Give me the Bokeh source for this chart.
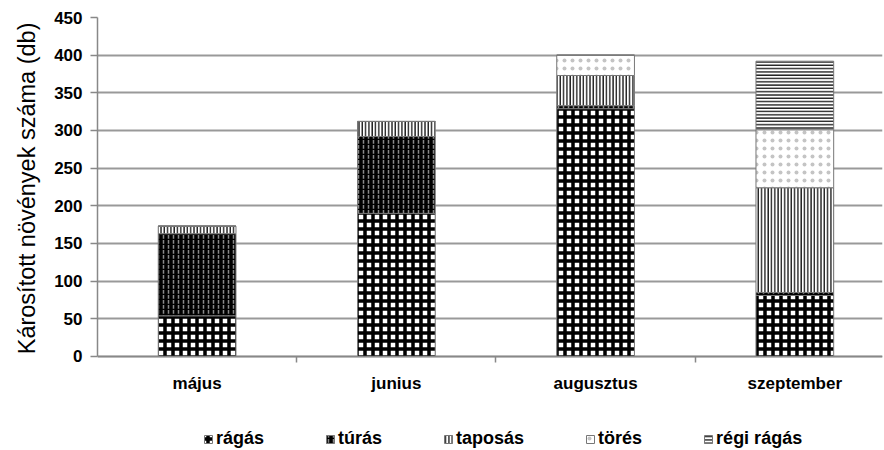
from bokeh.plotting import figure
from bokeh.models import Range1d, FixedTicker, Legend, LegendItem, ColumnDataSource, Title
from bokeh.embed import file_html
from bokeh.resources import INLINE

months = ["május", "junius", "augusztus", "szeptember"]
ragas = [54, 190, 329, 81]
turas = [109, 102, 4, 4]
taposas = [10, 20, 40, 139]
tores = [0, 0, 27, 77]
regi_ragas = [0, 0, 0, 91]
series_names = ["rágás", "túrás", "taposás", "törés", "régi rágás"]
y_ticks = [0, 50, 100, 150, 200, 250, 300, 350, 400, 450]
y_title = "Károsított növények száma (db)"

x = [i + 0.5 for i in range(len(months))]
data = dict(ragas=ragas, turas=turas, taposas=taposas, tores=tores, regi=regi_ragas)
keys = ["ragas", "turas", "taposas", "tores", "regi"]

# frame reaches the bottom of the page; the x axis is pinned at y = 0
p = figure(frame_width=785, frame_height=433, output_backend="svg", toolbar_location=None,
           x_range=Range1d(0, 3.94), y_range=Range1d(-124.8, 450),
           min_border_left=97, min_border_right=2, min_border_top=17, min_border_bottom=0)
p.outline_line_color = None
p.background_fill_color = "white"

styles = [
    dict(fill_color="white", hatch_pattern="cross", hatch_color="black", hatch_scale=8, hatch_weight=3.5),
    dict(fill_color="black", hatch_pattern="vertical_dash", hatch_color="#8a8a8a", hatch_scale=5, hatch_weight=1.5),
    dict(fill_color="white", hatch_pattern="vertical_line", hatch_color="#222222", hatch_scale=3.3, hatch_weight=1.5),
    dict(fill_color="white", hatch_pattern="dot", hatch_color="#c4c4c4", hatch_scale=8, hatch_weight=0.3),
    dict(fill_color="white", hatch_pattern="horizontal_line", hatch_color="#222222", hatch_scale=3.3, hatch_weight=1.5),
]

bottoms = [0] * len(months)
renderers = []
for k, st in zip(keys, styles):
    vals = data[k]
    tops = [b + v for b, v in zip(bottoms, vals)]
    src = ColumnDataSource(dict(x=x, bottom=bottoms, top=tops))
    r = p.vbar(x="x", bottom="bottom", top="top", width=0.39, source=src,
               line_color="#777777", line_width=1, **st)
    renderers.append(r)
    bottoms = tops

p.yaxis.bounds = (0, 450)
p.yaxis.ticker = FixedTicker(ticks=y_ticks)
p.yaxis.axis_line_color = "#888888"
p.yaxis.axis_line_width = 1.5
p.yaxis.major_tick_line_color = "#888888"
p.yaxis.major_tick_line_width = 1.5
p.yaxis.major_tick_out = 7
p.yaxis.major_tick_in = 0
p.yaxis.minor_tick_line_color = None
p.yaxis.major_label_text_font = "Liberation Sans"
p.yaxis.major_label_text_font_style = "bold"
p.yaxis.major_label_text_font_size = "17px"
p.yaxis.major_label_text_color = "black"
p.yaxis.major_label_standoff = 8

# y axis title, centred on the 0..450 span
ttl = Title(text=y_title, align="right", offset=5, vertical_align="top", standoff=20,
            text_font="Liberation Sans", text_font_style="normal", text_font_size="23.5px",
            text_color="black")
p.add_layout(ttl, "left")

p.xaxis.fixed_location = 0
p.xaxis.ticker = FixedTicker(ticks=x, minor_ticks=[1, 2, 3])
p.xaxis.major_label_overrides = {xi: m for xi, m in zip(x, months)}
p.xaxis.axis_line_color = "#888888"
p.xaxis.axis_line_width = 1.5
p.xaxis.major_tick_line_color = None
p.xaxis.major_tick_out = 0
p.xaxis.major_tick_in = 0
p.xaxis.minor_tick_line_color = "#888888"
p.xaxis.minor_tick_line_width = 1.5
p.xaxis.minor_tick_out = 6
p.xaxis.minor_tick_in = 0
p.xaxis.major_label_text_font = "Liberation Sans"
p.xaxis.major_label_text_font_style = "bold"
p.xaxis.major_label_text_font_size = "17px"
p.xaxis.major_label_text_color = "black"
p.xaxis.major_label_standoff = 12

p.xgrid.grid_line_color = None
p.ygrid.ticker = FixedTicker(ticks=y_ticks)
p.ygrid.grid_line_color = "#999999"
p.ygrid.grid_line_width = 2

legend = Legend(items=[LegendItem(label=n, renderers=[r]) for n, r in zip(series_names, renderers)],
                orientation="horizontal", location=(106, 1))
legend.label_text_font = "Liberation Sans"
legend.label_text_font_style = "bold"
legend.label_text_font_size = "18px"
legend.label_text_color = "black"
legend.glyph_width = 10
legend.glyph_height = 10
legend.label_standoff = 3
legend.spacing = 61
legend.border_line_color = None
legend.background_fill_alpha = 0
legend.margin = 0
legend.padding = 2
p.add_layout(legend, "center")

open("out.html", "w").write(file_html(p, INLINE))
